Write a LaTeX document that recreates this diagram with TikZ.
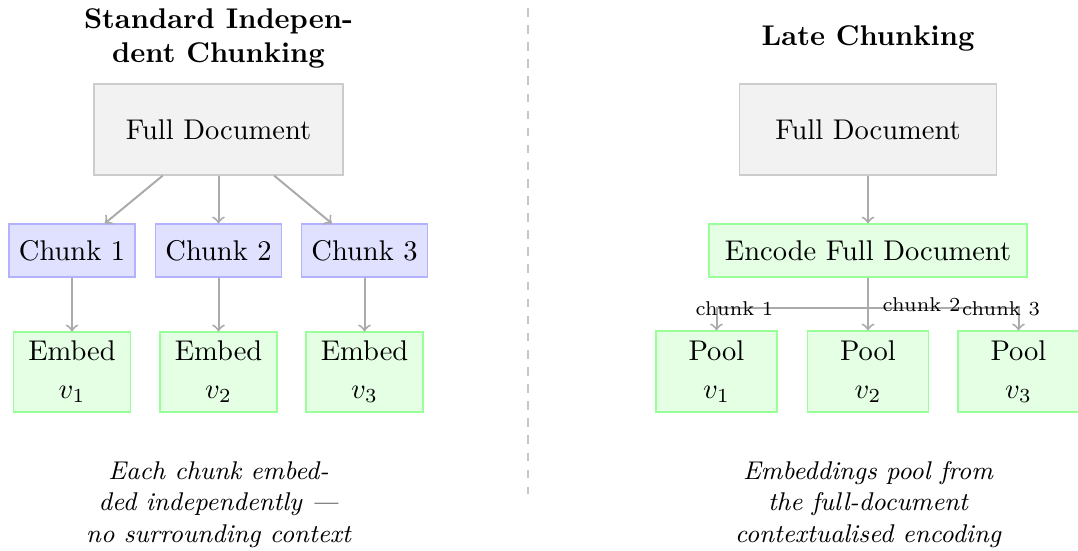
\documentclass[tikz,border=0pt]{standalone}
\begin{document}
\begin{tikzpicture}[x=0.3509pt, y=-0.3509pt,
  box/.style={rectangle, inner sep=0pt, align=center},
  docbox/.style={box, draw=black!20, fill=black!5, minimum height=91*0.3509pt},
  chunkbox/.style={box, draw=blue!30, fill=blue!12, minimum width=126*0.3509pt, minimum height=53*0.3509pt},
  embbox/.style={box, draw=green!40, fill=green!10, minimum width=117*0.3509pt, minimum height=80*0.3509pt},
  poolbox/.style={box, draw=green!40, fill=green!10, minimum width=121*0.3509pt, minimum height=81*0.3509pt},
  encbox/.style={box, draw=green!40, fill=green!10, minimum width=318*0.3509pt, minimum height=53*0.3509pt},
  heading/.style={align=center, font=\bfseries, inner sep=0pt},
  caption/.style={align=center, font=\small\itshape, inner sep=0pt},
  lab/.style={font=\scriptsize, inner sep=0pt},
  arr/.style={->, draw=black!33, line width=0.7pt},
  sep/.style={draw=black!22, dashed, line width=0.7pt}
]
\useasboundingbox (0,0) rectangle (1078,550);

% ---- left column: standard independent chunking ----
\node[heading] (ltitle) at (218.5,38.7) {Standard Indepen-\\dent Chunking};
\node[docbox, minimum width=249*0.3509pt] (ldoc) at (218.5,129.5) {Full Document};

\node[chunkbox] (c1) at (72,250.5)  {Chunk 1};
\node[chunkbox] (c2) at (218.5,250.5) {Chunk 2};
\node[chunkbox] (c3) at (364.5,250.5) {Chunk 3};

\node[embbox] (e1) at (72,372)  {Embed\\[1.3pt]$v_1$};
\node[embbox] (e2) at (218.5,372) {Embed\\[1.3pt]$v_2$};
\node[embbox] (e3) at (364.5,372) {Embed\\[1.3pt]$v_3$};

\draw[arr] (ldoc) -- (c1);
\draw[arr] (ldoc) -- (c2);
\draw[arr] (ldoc) -- (c3);
\draw[arr] (c1) -- (e1);
\draw[arr] (c2) -- (e2);
\draw[arr] (c3) -- (e3);

\node[caption] (lcap) at (218.5,504.5) {Each chunk embed-\\ded independently ---\\no surrounding context};

% ---- separator ----
\coordinate (septop) at (528,8);
\coordinate (sepbot) at (528,494);
\draw[sep] (septop) -- (sepbot);

% ---- right column: late chunking ----
\node[heading] (rtitle) at (868,38.7) {Late Chunking};
\node[docbox, minimum width=257*0.3509pt] (rdoc) at (868,129.5) {Full Document};
\node[encbox] (enc) at (868,250.5) {Encode Full Document};

\node[poolbox] (p1) at (716.5,371.5) {Pool\\[1.3pt]$v_1$};
\node[poolbox] (p2) at (868,371.5)   {Pool\\[1.3pt]$v_2$};
\node[poolbox] (p3) at (1018.5,371.5) {Pool\\[1.3pt]$v_3$};

\coordinate (split) at (868,308);
\draw[arr] (rdoc) -- (enc);
\draw[arr] (enc.south) -- (split) -| (p1.north);
\draw[arr] (enc) -- (p2);
\draw[arr] (enc.south) -- (split) -| (p3.north);

\node[lab, anchor=base] (l1) at (734.5,315) {chunk 1};
\node[lab, anchor=base] (l2) at (921.5,311) {chunk 2};
\node[lab, anchor=base] (l3) at (1001,315)  {chunk 3};

\node[caption] (rcap) at (868,504.5) {Embeddings pool from\\the full-document\\contextualised encoding};
\end{tikzpicture}
\end{document}
